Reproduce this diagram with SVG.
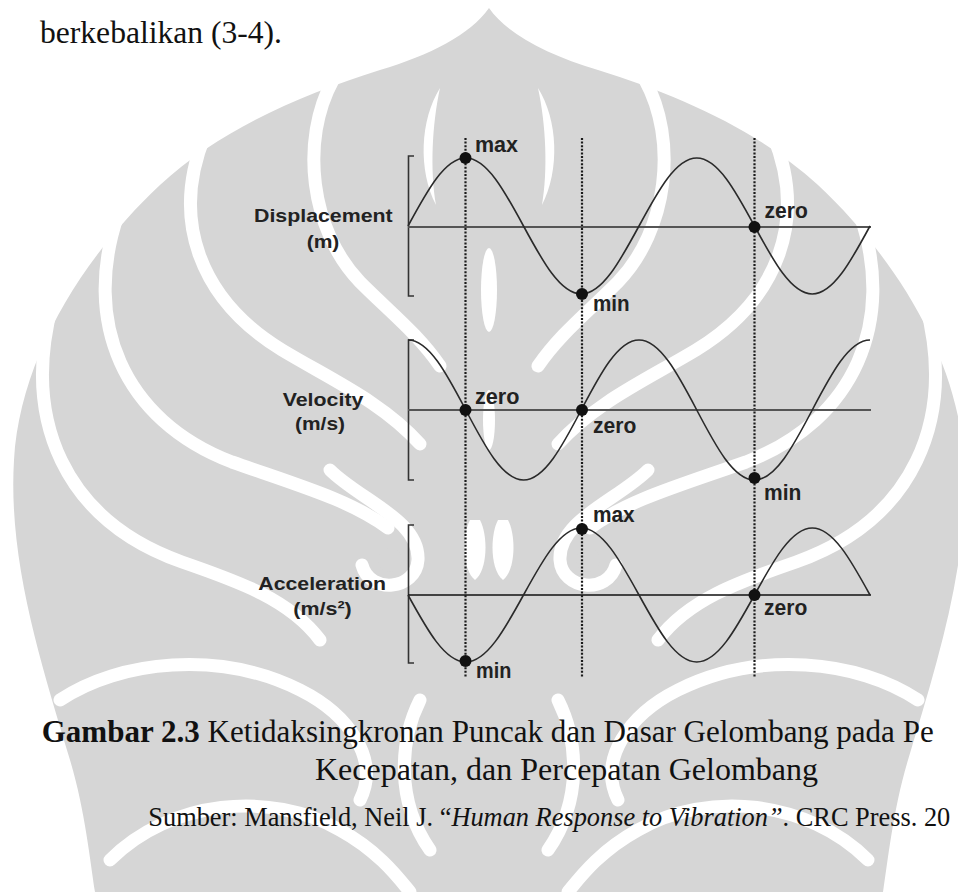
<svg xmlns="http://www.w3.org/2000/svg" width="958" height="892" viewBox="0 0 958 892">
  <defs>
    <style>
      .wm { fill: #d6d6d6; }
      .wl { fill: none; stroke: #ffffff; stroke-width: 13; stroke-linecap: round; }
      .wf { fill: #ffffff; }
      .body { font-family: "Liberation Serif", "Times New Roman", serif; fill: #111; }
      .lab { font-family: "Liberation Sans", Arial, sans-serif; font-weight: bold; fill: #222; font-size: 19px; }
      .pt { font-family: "Liberation Sans", Arial, sans-serif; font-weight: bold; fill: #222; font-size: 22.5px; }
      .wave { fill: none; stroke: #2a2a2a; stroke-width: 1.6; }
      .axis { fill: none; stroke: #555; stroke-width: 2.2; }
      .axis-dark { fill: none; stroke: #111; stroke-width: 1.6; }
      .brk { fill: none; stroke: #333; stroke-width: 1.6; }
      .guide { fill: none; stroke: #1a1a1a; stroke-width: 2.2; stroke-dasharray: 2 1.6; }
      .dot { fill: #111; }
    </style>
    <g id="wm-half">
      <!-- upper horn -->
      <path class="wf" d="M440,88 C420,120 418,170 436,205 C430,170 432,125 440,88 Z"/>
      <!-- sweeping feathers -->
      <path class="wl" d="M333,80 C300,140 310,230 360,282 C392,314 418,334 440,366"/>
      <path class="wl" d="M205,135 C170,220 200,300 282,350 C332,380 382,402 420,444"/>
      <path class="wl" d="M118,215 C82,320 122,420 232,462 C300,486 350,500 388,528"/>
      <path class="wl" d="M52,305 C22,420 64,520 182,562 C240,582 290,600 320,640"/>
      <!-- curl around the eye -->
      <path class="wl" d="M330,470 C360,500 420,520 418,560 C416,590 370,595 362,565"/>
      <circle class="wm" cx="390" cy="560" r="12"/>
      <!-- lower curls -->
      <path class="wl" d="M60,700 C120,660 220,650 300,690 C350,715 380,760 360,800"/>
      <path class="wl" d="M110,860 C170,800 270,790 340,830 C380,852 400,880 410,892"/>
      <path class="wl" d="M420,700 C400,740 395,800 430,850"/>
      <!-- central slits -->
      <path class="wf" d="M470,520 C462,535 462,570 475,580 C488,570 488,535 480,520 Z"/>
    </g>
  </defs>

  <rect width="958" height="892" fill="#ffffff"/>

  <!-- background emblem -->
  <g id="watermark">
    <path class="wm" d="M489,8 C470,35 430,55 380,70 C300,95 220,130 160,185 C80,260 20,360 14,460 C8,560 40,660 70,760 C85,810 90,860 95,892 L883,892 C888,860 893,810 908,760 C938,660 970,560 964,460 C958,360 898,260 818,185 C758,130 678,95 598,70 C548,55 508,35 489,8 Z"/>
    <use href="#wm-half"/>
    <use href="#wm-half" transform="translate(978,0) scale(-1,1)"/>
    <ellipse class="wf" cx="489" cy="290" rx="8" ry="42"/>
    <ellipse class="wf" cx="489" cy="420" rx="6" ry="30"/>
  </g>

  <!-- running text above the figure -->
  <text class="body" x="40" y="43" font-size="32" textLength="242" lengthAdjust="spacingAndGlyphs">berkebalikan (3-4).</text>

  <!-- vertical phase guides -->
  <g id="connectors">
    <line class="guide" x1="465.5" y1="138" x2="465.5" y2="678"/>
    <line class="guide" x1="582" y1="138" x2="582" y2="678"/>
    <line class="guide" x1="754.5" y1="138" x2="754.5" y2="678"/>
  </g>

  <!-- displacement trace -->
  <g id="displacement">
    <path class="brk" d="M414,156 H408.5 V296 H414"/>
    <line class="axis" x1="408" y1="227" x2="871" y2="227"/>
    <path class="wave" d="M408,226 C426.83,191.16 444.85,158 465.75,158 C486.65,158 504.67,191.16 523.5,226 C542.33,260.84 560.35,294 581.25,294 C602.15,294 620.17,260.84 639,226 C657.83,191.16 675.85,158 696.75,158 C717.65,158 735.67,191.16 754.5,226 C773.33,260.84 791.35,294 812.25,294 C833.15,294 851.17,260.84 870,226"/>
    <circle class="dot" cx="465.5" cy="158" r="6"/>
    <circle class="dot" cx="582" cy="294" r="6"/>
    <circle class="dot" cx="754.5" cy="227" r="6"/>
    <text class="lab" x="254" y="222" textLength="138.7" lengthAdjust="spacingAndGlyphs">Displacement</text>
    <text class="lab" x="306.7" y="248" textLength="32.7" lengthAdjust="spacingAndGlyphs">(m)</text>
    <text class="pt" x="475" y="152" textLength="43" lengthAdjust="spacingAndGlyphs">max</text>
    <text class="pt" x="593" y="311" textLength="36.7" lengthAdjust="spacingAndGlyphs">min</text>
    <text class="pt" x="764.5" y="218" textLength="43.3" lengthAdjust="spacingAndGlyphs">zero</text>
  </g>

  <!-- velocity trace -->
  <g id="velocity">
    <path class="brk" d="M414,340 H408.5 V480 H414"/>
    <line class="axis" x1="408" y1="410" x2="871" y2="410"/>
    <path class="wave" d="M408,340 C428.9,340 446.92,374.14 465.75,410 C484.58,445.86 502.6,480 523.5,480 C544.4,480 562.42,445.86 581.25,410 C600.08,374.14 618.1,340 639,340 C659.9,340 677.92,374.14 696.75,410 C715.58,445.86 733.6,480 754.5,480 C775.4,480 793.42,445.86 812.25,410 C831.08,374.14 849.1,340 870,340"/>
    <circle class="dot" cx="465.5" cy="410" r="6"/>
    <circle class="dot" cx="582" cy="410" r="6"/>
    <circle class="dot" cx="754.5" cy="478" r="6"/>
    <text class="lab" x="282.7" y="406" textLength="80.7" lengthAdjust="spacingAndGlyphs">Velocity</text>
    <text class="lab" x="295" y="430" textLength="50" lengthAdjust="spacingAndGlyphs">(m/s)</text>
    <text class="pt" x="475" y="404" textLength="44.5" lengthAdjust="spacingAndGlyphs">zero</text>
    <text class="pt" x="593" y="433" textLength="43.3" lengthAdjust="spacingAndGlyphs">zero</text>
    <text class="pt" x="764" y="500" textLength="37.3" lengthAdjust="spacingAndGlyphs">min</text>
  </g>

  <!-- acceleration trace -->
  <g id="acceleration">
    <path class="brk" d="M414,525 H408.5 V663 H414"/>
    <line class="axis-dark" x1="408" y1="595" x2="871" y2="595"/>
    <path class="wave" d="M408,595 C426.83,629.32 444.85,662 465.75,662 C486.65,662 504.67,629.32 523.5,595 C542.33,560.68 560.35,528 581.25,528 C602.15,528 620.17,560.68 639,595 C657.83,629.32 675.85,662 696.75,662 C717.65,662 735.67,629.32 754.5,595 C773.33,560.68 791.35,528 812.25,528 C833.15,528 851.17,560.68 870,595"/>
    <circle class="dot" cx="465.5" cy="661" r="6"/>
    <circle class="dot" cx="582" cy="529" r="6"/>
    <circle class="dot" cx="754.5" cy="595" r="6"/>
    <text class="lab" x="258.3" y="590" textLength="127.7" lengthAdjust="spacingAndGlyphs">Acceleration</text>
    <text class="lab" x="293.3" y="615" textLength="58.4" lengthAdjust="spacingAndGlyphs">(m/s²)</text>
    <text class="pt" x="593" y="522" textLength="41.7" lengthAdjust="spacingAndGlyphs">max</text>
    <text class="pt" x="764" y="615" textLength="43.3" lengthAdjust="spacingAndGlyphs">zero</text>
    <text class="pt" x="476" y="678" textLength="35.3" lengthAdjust="spacingAndGlyphs">min</text>
  </g>

  <!-- caption -->
  <g id="caption">
    <text class="body" x="41.7" y="742" font-size="32" textLength="892" lengthAdjust="spacingAndGlyphs"><tspan font-weight="bold">Gambar 2.3</tspan> Ketidaksingkronan Puncak dan Dasar Gelombang pada Pe</text>
    <text class="body" x="315" y="780" font-size="32" textLength="503" lengthAdjust="spacingAndGlyphs">Kecepatan, dan Percepatan Gelombang</text>
    <text class="body" x="148.3" y="826" font-size="26.5" textLength="802" lengthAdjust="spacingAndGlyphs">Sumber: Mansfield, Neil J. “<tspan font-style="italic">Human Response to Vibration”</tspan>. CRC Press. 20</text>
  </g>
</svg>
